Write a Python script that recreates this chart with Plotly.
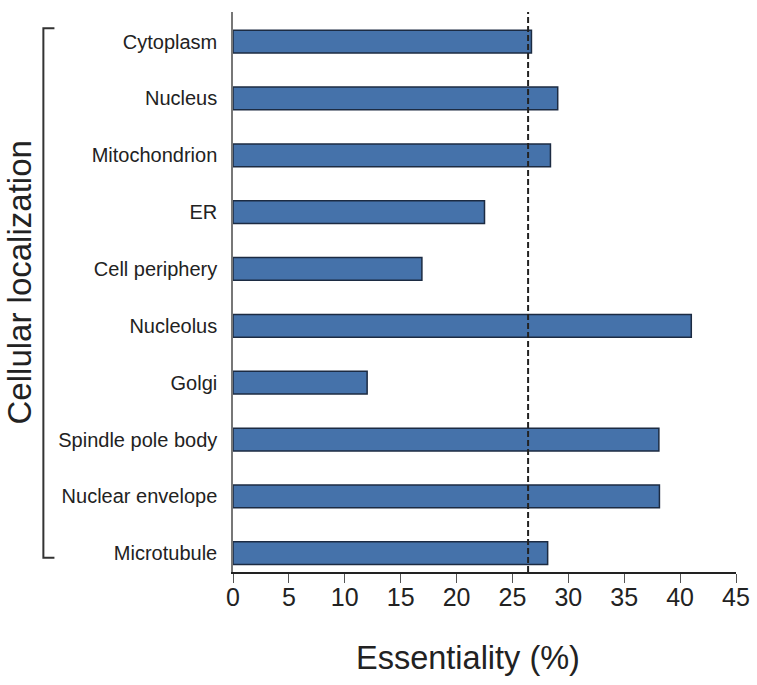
import plotly.graph_objects as go

categories = ["Cytoplasm", "Nucleus", "Mitochondrion", "ER", "Cell periphery",
              "Nucleolus", "Golgi", "Spindle pole body", "Nuclear envelope", "Microtubule"]
essentiality = [26.7, 29.05, 28.4, 22.5, 16.9, 41.0, 12.0, 38.1, 38.15, 28.15]
reference_line = 26.4
x_ticks = [0, 5, 10, 15, 20, 25, 30, 35, 40, 45]

FONT = "Liberation Sans, Arial, Helvetica, sans-serif"

fig = go.Figure()
fig.add_trace(go.Bar(
    x=essentiality, y=categories, orientation="h", width=0.4,
    marker=dict(color="#4572aa", line=dict(color="#1c2b42", width=1.5)),
    showlegend=False, hoverinfo="skip",
))

fig.update_layout(
    width=757, height=685,
    margin=dict(l=233, r=21, t=12, b=113, autoexpand=False),
    plot_bgcolor="white", paper_bgcolor="white",
    font=dict(family=FONT, color="#222222"),
    xaxis=dict(
        range=[0, 45], tickvals=x_ticks, ticktext=[str(t) for t in x_ticks],
        showgrid=False, zeroline=False, automargin=False,
        showline=True, linecolor="#222222", linewidth=1.5,
        ticks="outside", ticklen=9, tickwidth=1.2, tickcolor="#555555",
        ticklabelstandoff=-7,
        tickfont=dict(size=25, family=FONT, color="#222222"),
    ),
    yaxis=dict(
        type="category", categoryorder="array", categoryarray=categories[::-1],
        range=[-0.33, 9.52], automargin=False,
        showgrid=False, zeroline=False,
        showline=True, linecolor="#777777", linewidth=1.5,
        ticks="", ticklabelstandoff=10,
        tickfont=dict(size=20, family=FONT, color="#222222"),
    ),
    shapes=[
        dict(type="line", xref="x", yref="paper", x0=reference_line, x1=reference_line,
             y0=0, y1=1, line=dict(color="#222222", width=2, dash="6px,3px"), layer="above"),
        dict(type="path", xref="paper", yref="paper",
             path="M -0.355 0.971 L -0.377 0.971 L -0.377 0.0255 L -0.355 0.0255",
             line=dict(color="#333333", width=2)),
    ],
    annotations=[
        dict(text="Essentiality (%)", xref="paper", yref="paper", x=0.467, y=-0.1536,
             xanchor="center", yanchor="middle", showarrow=False,
             font=dict(size=32.5, family=FONT, color="#222222")),
        dict(text="Cellular localization", xref="paper", yref="paper", x=-0.4235, y=0.517,
             xanchor="center", yanchor="middle", textangle=-90, showarrow=False,
             font=dict(size=33, family=FONT, color="#222222")),
    ],
)

fig.write_html("out.html", config={"displayModeBar": False},
               post_script="document.body.style.margin='0px';")
